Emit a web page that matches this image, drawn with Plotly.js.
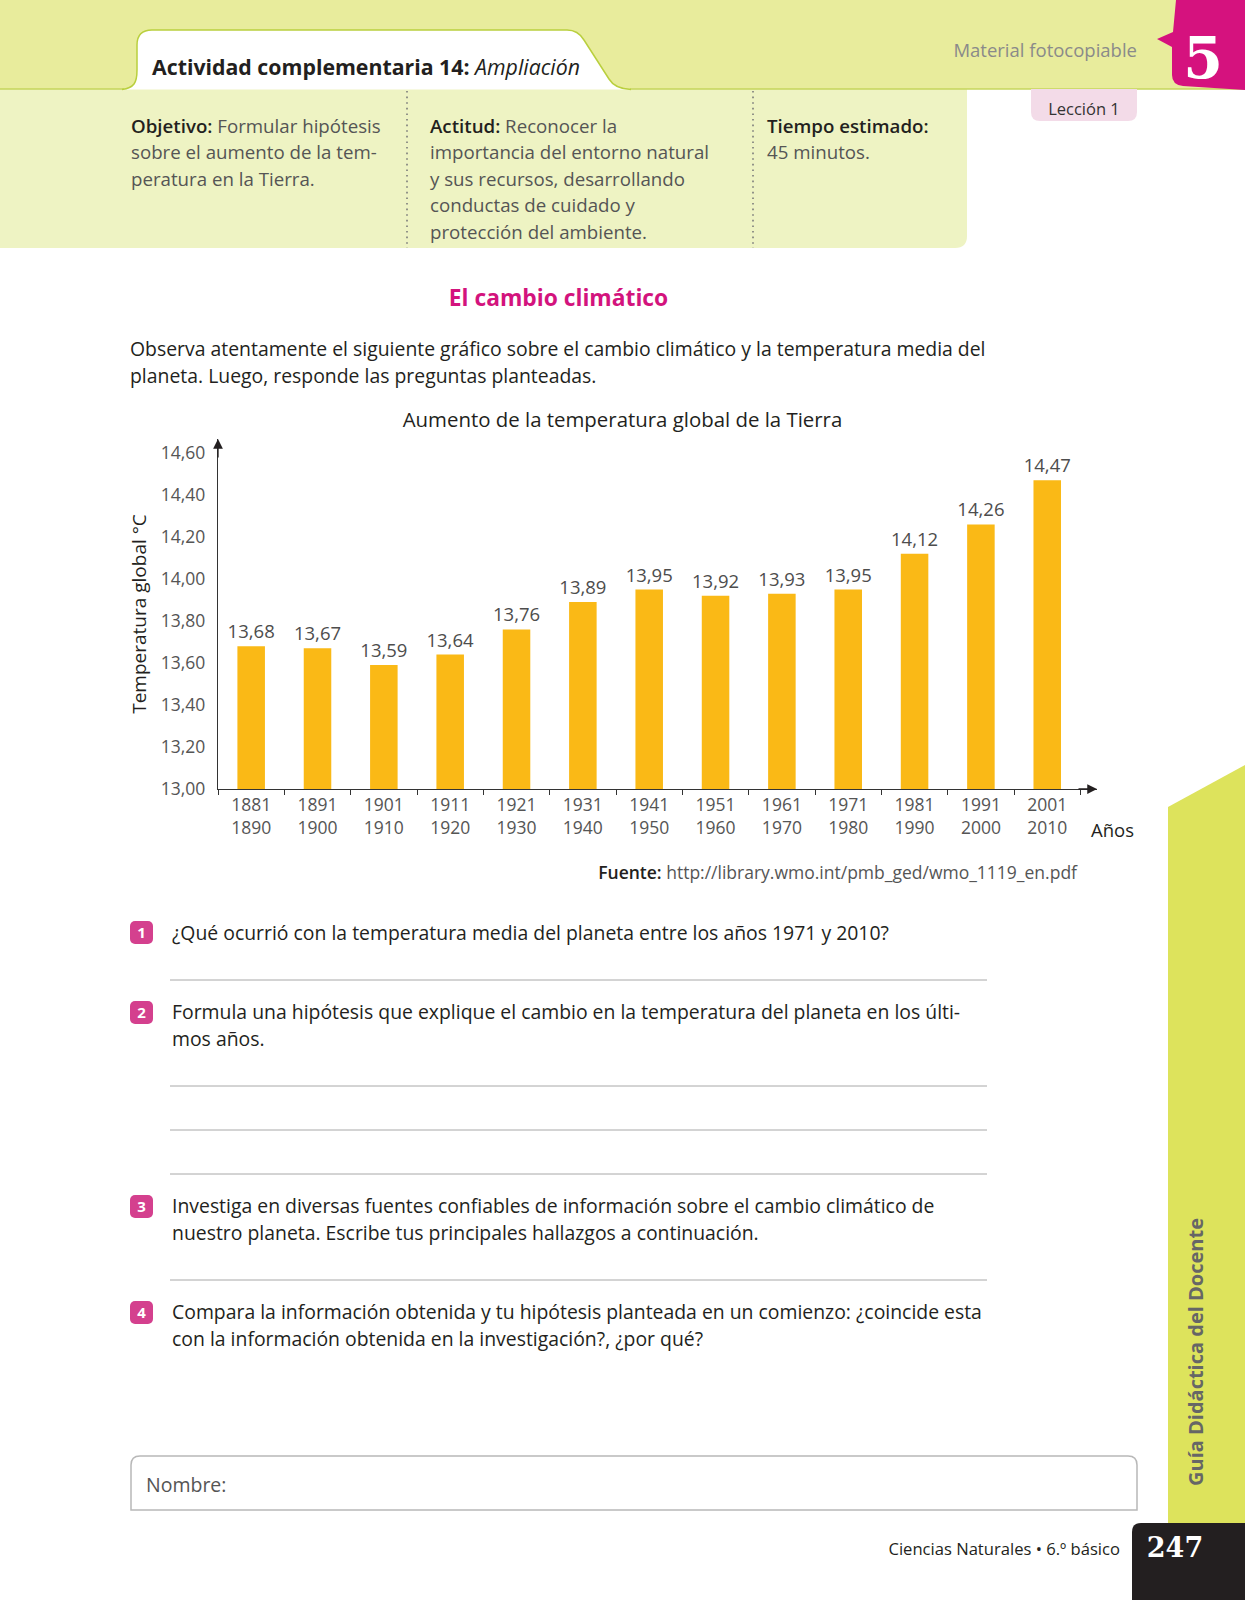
<!DOCTYPE html>
<html>
<head>
<meta charset="utf-8">
<script src="https://cdn.plot.ly/plotly-3.0.1.min.js"></script>
<style>
html,body{margin:0;padding:0;}
body{width:1245px;height:1600px;position:relative;overflow:hidden;background:#fff;font-family:"Open Sans",sans-serif;color:#231f20;}
.abs{position:absolute;white-space:nowrap;}
.info{font-size:18.7px;line-height:26.5px;color:#555;}
.info b{color:#231f20;font-weight:600;}
.q{font-size:19.4px;line-height:26.5px;color:#231f20;}
.badge{position:absolute;width:23px;height:23px;border-radius:5px;background:#d4408e;color:#fff;font-weight:700;font-size:15px;line-height:23px;text-align:center;}
#chart{position:absolute;left:0;top:380px;width:1245px;height:480px;}
</style>
</head>
<body>
<svg class="abs" style="left:0;top:0" width="1245" height="1600">
  <rect x="0" y="0" width="1245" height="89" fill="#e8ec9c"/>
  <path d="M0,89 H967 V236 Q967,248 955,248 H0 Z" fill="#eef3c3"/>
  <line x1="0" y1="89" x2="124" y2="89" stroke="#c6d65c" stroke-width="1.5"/>
  <line x1="630" y1="89" x2="1245" y2="89" stroke="#c6d65c" stroke-width="1.5"/>
  <path d="M122,89.5 C134,88 137,83 137,70 V45 Q137,30 152,30 H567 Q578,30 584,40 L609,79 Q615,89 631,89.5" fill="#ffffff" stroke="#b9cf3e" stroke-width="1.5"/>
  <path d="M1176,0 H1245 V90 L1183,86 Q1172,85 1172,75 V47 L1157,39 L1173,32 Z" fill="#d5127e"/>
  <text x="1203" y="78" text-anchor="middle" font-family="DejaVu Serif" font-weight="bold" font-size="57" fill="#ffffff">5</text>
  <line x1="407" y1="91" x2="407" y2="248" stroke="#7a7a7a" stroke-width="1.6" stroke-dasharray="1.6,4"/>
  <line x1="753" y1="91" x2="753" y2="248" stroke="#7a7a7a" stroke-width="1.6" stroke-dasharray="1.6,4"/>
  <path d="M1031,89 H1137 V112 Q1137,121 1128,121 H1040 Q1031,121 1031,112 Z" fill="#f3dbe8"/>
  <polygon points="1168,807 1245,765 1245,1523 1168,1523" fill="#dde35c"/>
  <path d="M1132,1600 V1532 Q1132,1523 1141,1523 H1245 V1600 Z" fill="#231f20"/>
  <text x="1175" y="1557" text-anchor="middle" font-family="DejaVu Serif" font-weight="bold" font-size="27" fill="#ffffff">247</text>
  <line x1="170" y1="980" x2="987" y2="980" stroke="#a8a8a8" stroke-width="1"/>
  <line x1="170" y1="1086" x2="987" y2="1086" stroke="#a8a8a8" stroke-width="1"/>
  <line x1="170" y1="1130" x2="987" y2="1130" stroke="#a8a8a8" stroke-width="1"/>
  <line x1="170" y1="1174" x2="987" y2="1174" stroke="#a8a8a8" stroke-width="1"/>
  <line x1="170" y1="1280" x2="987" y2="1280" stroke="#a8a8a8" stroke-width="1"/>
  <path d="M131,1510 V1465 Q131,1456 140,1456 H1128 Q1137,1456 1137,1465 V1510 Z" fill="none" stroke="#b8b8b8" stroke-width="1.5"/>
</svg>

<div class="abs" style="left:152px;top:52px;font-size:21.3px;line-height:30px;font-weight:700;color:#231f20;">Actividad complementaria 14: <span style="font-weight:400;font-style:italic;">Ampliación</span></div>
<div class="abs" style="right:108px;top:37px;font-size:18.5px;line-height:26px;color:#8a8a8a;">Material fotocopiable</div>
<div class="abs" style="left:1031px;top:96px;width:106px;text-align:center;font-size:16.5px;line-height:26px;color:#333;">Lección 1</div>

<div class="abs info" style="left:131px;top:112.5px;"><b>Objetivo:</b> Formular hipótesis<br>sobre el aumento de la tem-<br>peratura en la Tierra.</div>
<div class="abs info" style="left:430px;top:112.5px;"><b>Actitud:</b> Reconocer la<br>importancia del entorno natural<br>y sus recursos, desarrollando<br>conductas de cuidado y<br>protección del ambiente.</div>
<div class="abs info" style="left:767px;top:112.5px;"><b>Tiempo estimado:</b><br>45 minutos.</div>

<div class="abs" style="left:0;width:1117px;text-align:center;top:282px;font-size:22.8px;line-height:32px;font-weight:700;color:#d3137d;">El cambio climático</div>

<div class="abs q" style="left:130px;top:336px;">Observa atentamente el siguiente gráfico sobre el cambio climático y la temperatura media del<br>planeta. Luego, responde las preguntas planteadas.</div>

<div id="chart"></div>

<div class="abs" style="right:168px;top:859px;font-size:17.5px;line-height:26px;color:#555;"><span style="color:#231f20;font-weight:600;">Fuente:</span> http://library.wmo.int/pmb_ged/wmo_1119_en.pdf</div>

<div class="badge" style="left:130px;top:921px;">1</div>
<div class="abs q" style="left:172px;top:919.5px;">¿Qué ocurrió con la temperatura media del planeta entre los años 1971 y 2010?</div>
<div class="badge" style="left:130px;top:1001px;">2</div>
<div class="abs q" style="left:172px;top:999px;">Formula una hipótesis que explique el cambio en la temperatura del planeta en los últi-<br>mos años.</div>
<div class="badge" style="left:130px;top:1195px;">3</div>
<div class="abs q" style="left:172px;top:1193px;">Investiga en diversas fuentes confiables de información sobre el cambio climático de<br>nuestro planeta. Escribe tus principales hallazgos a continuación.</div>
<div class="badge" style="left:130px;top:1301px;">4</div>
<div class="abs q" style="left:172px;top:1299px;">Compara la información obtenida y tu hipótesis planteada en un comienzo: ¿coincide esta<br>con la información obtenida en la investigación?, ¿por qué?</div>

<div class="abs" style="left:146px;top:1471px;font-size:19.5px;line-height:28px;color:#555;">Nombre:</div>

<div class="abs" style="left:1196px;top:1352px;transform:translate(-50%,-50%) rotate(-90deg);font-size:20px;line-height:24px;font-weight:700;color:#666;">Guía Didáctica del Docente</div>

<div class="abs" style="right:125px;top:1536px;font-size:16.6px;line-height:26px;color:#231f20;">Ciencias Naturales • 6.º básico</div>

<script>
// Data
const periodStart = ['1881','1891','1901','1911','1921','1931','1941','1951','1961','1971','1981','1991','2001'];
const periodEnd   = ['1890','1900','1910','1920','1930','1940','1950','1960','1970','1980','1990','2000','2010'];
const temps = [13.68, 13.67, 13.59, 13.64, 13.76, 13.89, 13.95, 13.92, 13.93, 13.95, 14.12, 14.26, 14.47];
const yTicks = [13.00, 13.20, 13.40, 13.60, 13.80, 14.00, 14.20, 14.40, 14.60];

const categories = periodStart.map((s, i) => s + '<br>' + periodEnd[i]);

const trace = {
  type: 'bar',
  x: categories,
  y: temps,
  width: 0.415,
  marker: {color: '#fab916'},
  texttemplate: '%{y:.2f}',
  textposition: 'outside',
  constraintext: 'none',
  cliponaxis: false,
  textfont: {family: 'Open Sans', size: 18.5, color: '#4d4d4d'},
  hoverinfo: 'skip'
};

const layout = {
  width: 1245,
  height: 480,
  margin: {l: 218, r: 148, t: 59, b: 71},
  paper_bgcolor: 'rgba(0,0,0,0)',
  plot_bgcolor: 'rgba(0,0,0,0)',
  separators: ',.',
  showlegend: false,
  font: {family: 'Open Sans', color: '#231f20'},
  title: {
    text: 'Aumento de la temperatura global de la Tierra',
    font: {family: 'Open Sans', size: 20.4, color: '#231f20'},
    x: 0.5, xref: 'container', xanchor: 'center',
    y: 1 - 40 / 480, yref: 'container', yanchor: 'middle'
  },
  xaxis: {
    type: 'category',
    range: [-0.5, 12.75],
    showline: true, linecolor: '#333', linewidth: 1.3,
    ticks: 'outside', ticklen: 5, tickwidth: 1, tickcolor: '#333',
    tickson: 'boundaries',
    tickfont: {family: 'Open Sans', size: 17.5, color: '#555'},
    showgrid: false, zeroline: false, fixedrange: true
  },
  yaxis: {
    range: [13, 14.6667],
    tickmode: 'array',
    tickvals: yTicks,
    tickformat: '.2f',
    showline: true, linecolor: '#333', linewidth: 1.3,
    ticks: '',
    ticklabelstandoff: 8,
    showgrid: false, zeroline: false, fixedrange: true,
    tickfont: {family: 'Open Sans', size: 17.5, color: '#555'},
    title: {text: 'Temperatura global °C', font: {family: 'Open Sans', size: 19, color: '#231f20'}, standoff: 9}
  },
  annotations: [
    {xref: 'paper', yref: 'paper', x: 0, y: 1, ax: 0, ay: 20, showarrow: true,
     arrowhead: 2, arrowsize: 1.5, arrowwidth: 1.3, arrowcolor: '#231f20', text: ''},
    {xref: 'paper', yref: 'paper', x: 1, y: 0, ax: -20, ay: 0, showarrow: true,
     arrowhead: 2, arrowsize: 1.5, arrowwidth: 1.3, arrowcolor: '#231f20', text: ''},
    {xref: 'paper', yref: 'paper', x: 1, y: 0, xanchor: 'left', yanchor: 'middle',
     xshift: -8, yshift: -40, showarrow: false, text: 'Años',
     font: {family: 'Open Sans', size: 18.5, color: '#231f20'}}
  ]
};

Plotly.newPlot('chart', [trace], layout, {displayModeBar: false, staticPlot: true});
</script>
</body>
</html>
